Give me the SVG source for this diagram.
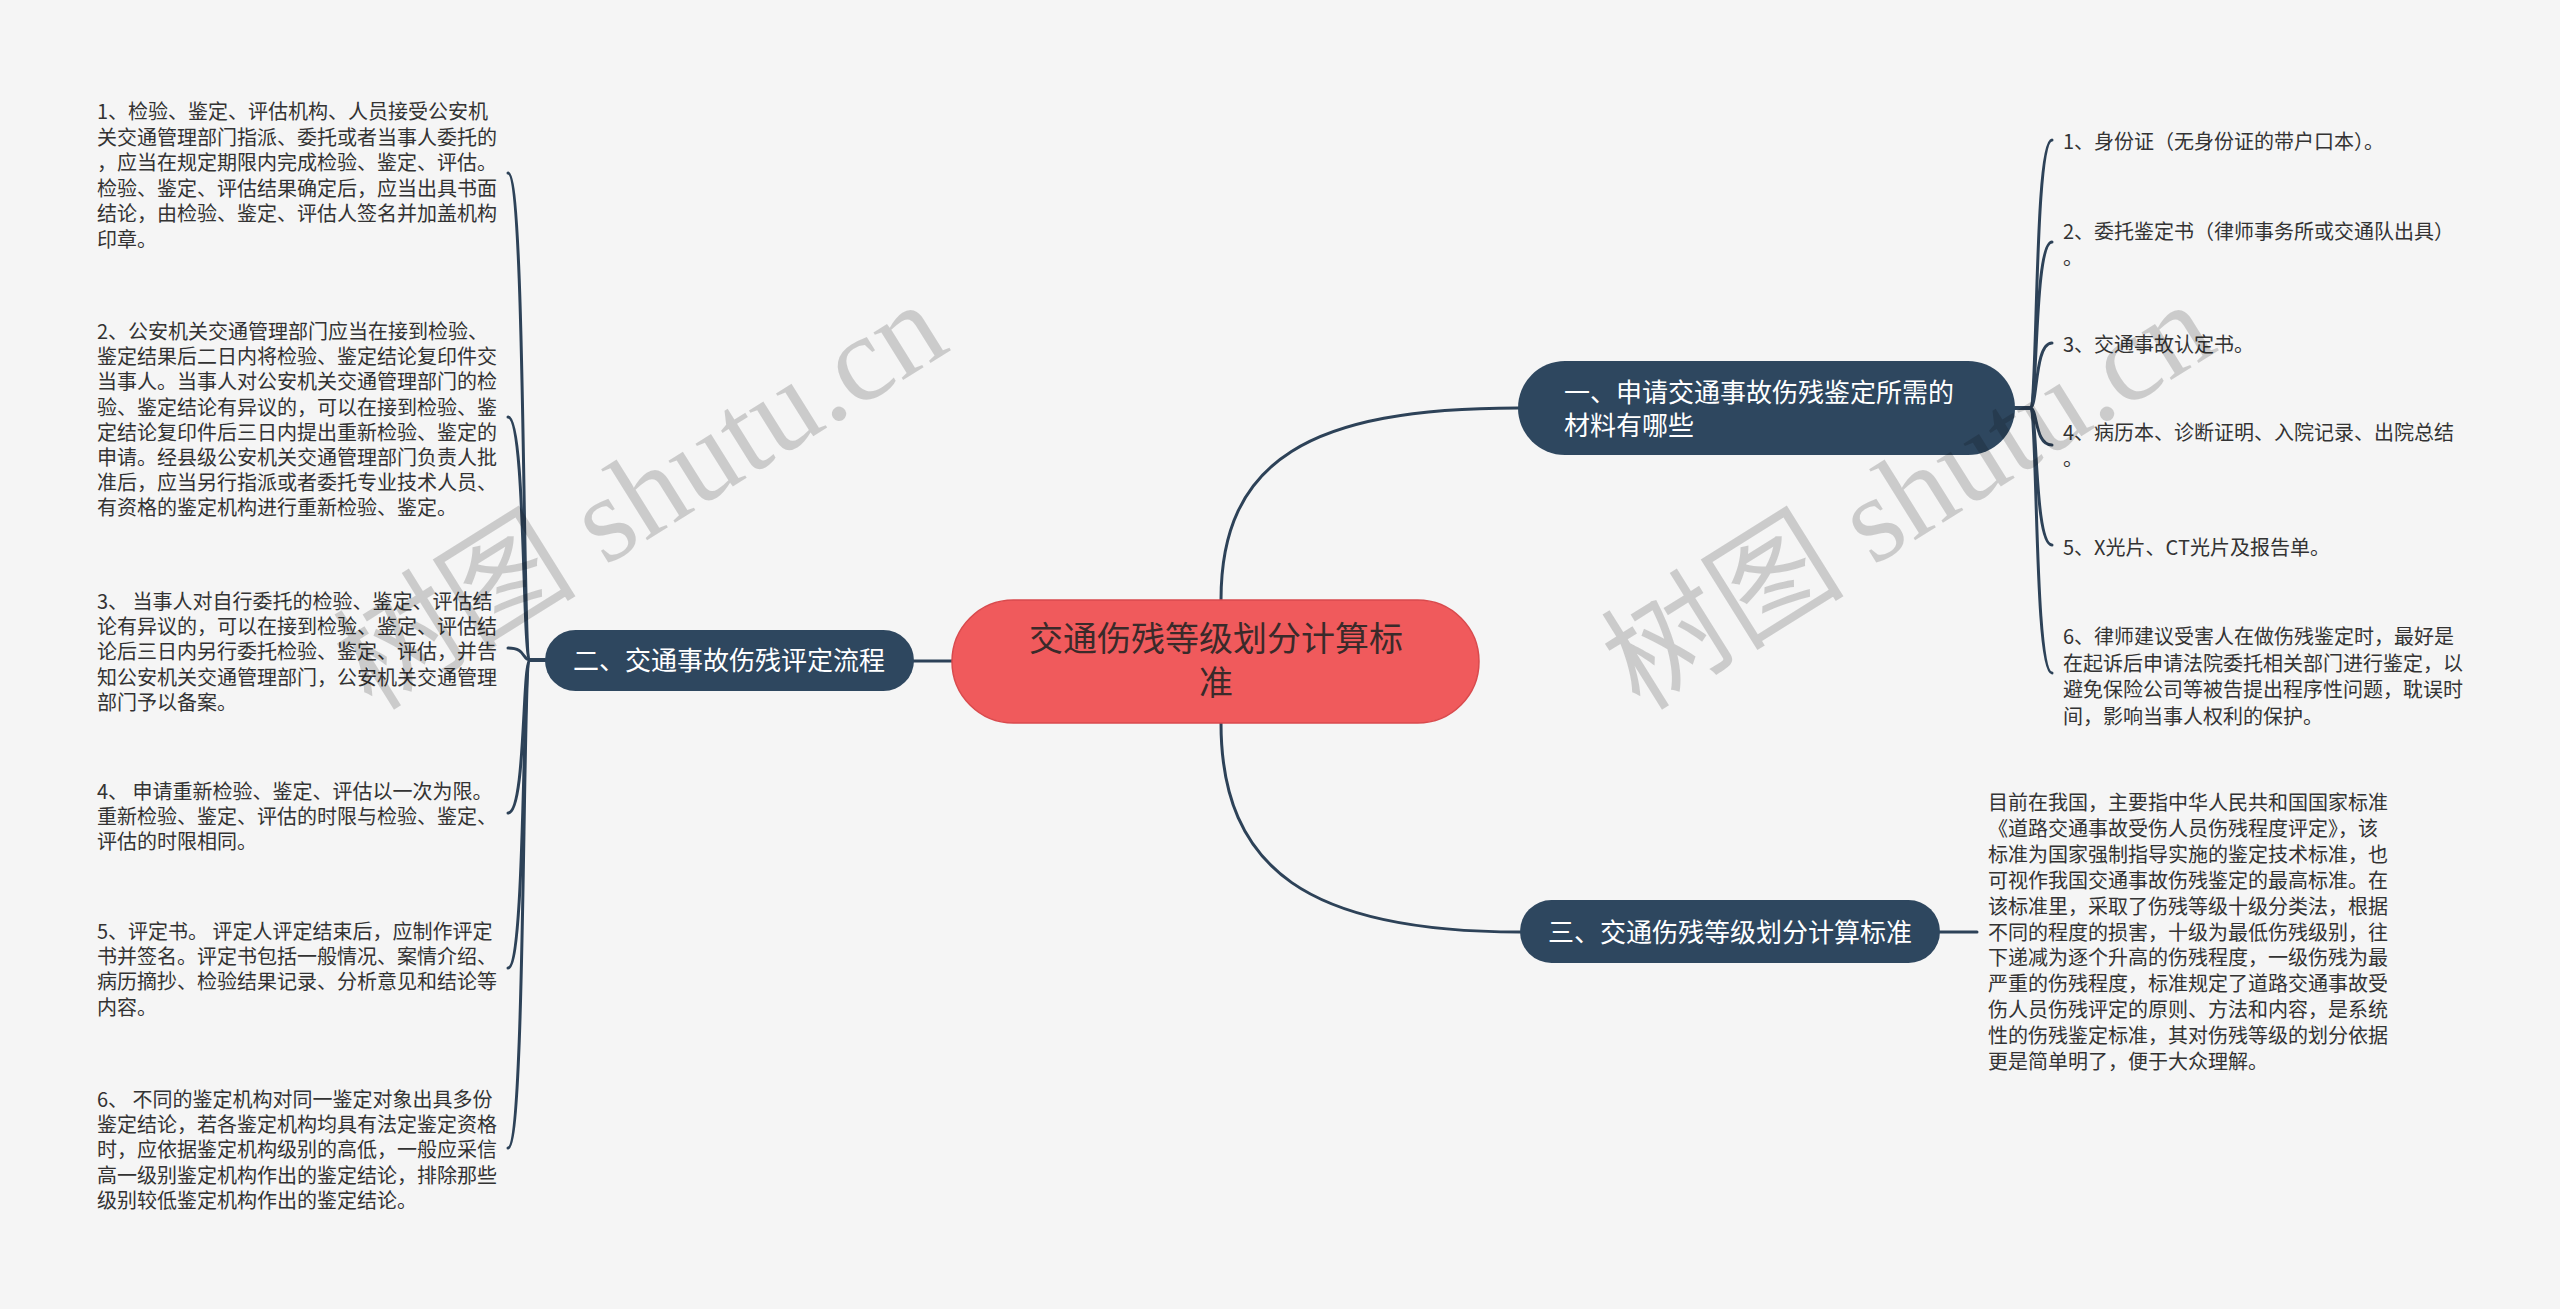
<svg xmlns="http://www.w3.org/2000/svg" width="2560" height="1309" viewBox="0 0 2560 1309">
<style>
.bg{fill:#F5F5F5}
.conn{fill:none;stroke:#2D4258;stroke-width:3;stroke-linecap:round}
.root{fill:#F05A5C;stroke:#D94A4D;stroke-width:1.5}
.main{fill:#2E475F}
.rt{font-family:"Noto Sans CJK SC","Liberation Sans",sans-serif;font-size:34px;fill:#3A2A2A}
.mt{font-family:"Noto Sans CJK SC","Liberation Sans",sans-serif;font-size:26px;fill:#FFFFFF}
.lt{font-family:"Noto Sans CJK SC","Liberation Sans",sans-serif;font-size:20px;fill:#333333}
.wm{font-family:"Liberation Serif","Noto Sans CJK SC",serif;font-size:122px;fill:#000000;fill-opacity:0.17}
</style>
<rect class="bg" x="0" y="0" width="2560" height="1309"/>
<g id="connectors">
<path class="conn" d="M1221,600 C1221,460 1310,408 1518,408"/>
<path class="conn" d="M1221,723 C1221,870 1310,932 1520,932"/>
<path class="conn" d="M952,661 L914,661"/>
<path class="conn" d="M545,660 L530,660 C522,660 526,173 508,173"/>
<path class="conn" d="M545,660 L530,660 C522,660 526,417 508,417"/>
<path class="conn" d="M545,660 L530,660 C522,660 526,648 508,648"/>
<path class="conn" d="M545,660 L530,660 C522,660 526,813 508,813"/>
<path class="conn" d="M545,660 L530,660 C522,660 526,968 508,968"/>
<path class="conn" d="M545,660 L530,660 C522,660 526,1148 508,1148"/>
<path class="conn" d="M2015,408 L2030,408 C2038,408 2034,140 2052,140"/>
<path class="conn" d="M2015,408 L2030,408 C2038,408 2034,242 2052,242"/>
<path class="conn" d="M2015,408 L2030,408 C2038,408 2034,343 2052,343"/>
<path class="conn" d="M2015,408 L2030,408 C2038,408 2034,445 2052,445"/>
<path class="conn" d="M2015,408 L2030,408 C2038,408 2034,545 2052,545"/>
<path class="conn" d="M2015,408 L2030,408 C2038,408 2034,673 2052,673"/>
<path class="conn" d="M1940,932 L1977,932"/>
</g>
<g id="root">
<rect class="root" x="952" y="600" width="527" height="123" rx="61.5"/>
<text class="rt" text-anchor="middle"><tspan x="1216" y="651">交通伤残等级划分计算标</tspan><tspan x="1216" y="695">准</tspan></text>
</g>
<g id="node1">
<rect class="main" x="1518" y="361" width="497" height="94" rx="47"/>
<text class="mt"><tspan x="1564" y="402">一、申请交通事故伤残鉴定所需的</tspan><tspan x="1564" y="435">材料有哪些</tspan></text>
</g>
<g id="node2">
<rect class="main" x="545" y="630" width="369" height="61" rx="30.5"/>
<text class="mt" x="573" y="670">二、交通事故伤残评定流程</text>
</g>
<g id="node3">
<rect class="main" x="1520" y="900" width="420" height="63" rx="31.5"/>
<text class="mt" x="1548" y="942">三、交通伤残等级划分计算标准</text>
</g>
<g id="leaf-l1">
<text class="lt"><tspan x="97" y="119">1、检验、鉴定、评估机构、人员接受公安机</tspan><tspan x="97" y="144.5">关交通管理部门指派、委托或者当事人委托的</tspan><tspan x="97" y="170">，应当在规定期限内完成检验、鉴定、评估。</tspan><tspan x="97" y="195.5">检验、鉴定、评估结果确定后，应当出具书面</tspan><tspan x="97" y="221">结论，由检验、鉴定、评估人签名并加盖机构</tspan><tspan x="97" y="246.5">印章。</tspan></text>
</g>
<g id="leaf-l2">
<text class="lt"><tspan x="97" y="339">2、公安机关交通管理部门应当在接到检验、</tspan><tspan x="97" y="364.2">鉴定结果后二日内将检验、鉴定结论复印件交</tspan><tspan x="97" y="389.4">当事人。当事人对公安机关交通管理部门的检</tspan><tspan x="97" y="414.6">验、鉴定结论有异议的，可以在接到检验、鉴</tspan><tspan x="97" y="439.8">定结论复印件后三日内提出重新检验、鉴定的</tspan><tspan x="97" y="465">申请。经县级公安机关交通管理部门负责人批</tspan><tspan x="97" y="490.2">准后，应当另行指派或者委托专业技术人员、</tspan><tspan x="97" y="515.4">有资格的鉴定机构进行重新检验、鉴定。</tspan></text>
</g>
<g id="leaf-l3">
<text class="lt"><tspan x="97" y="609">3、 当事人对自行委托的检验、鉴定、评估结</tspan><tspan x="97" y="634.2">论有异议的，可以在接到检验、鉴定、评估结</tspan><tspan x="97" y="659.4">论后三日内另行委托检验、鉴定、评估，并告</tspan><tspan x="97" y="684.6">知公安机关交通管理部门，公安机关交通管理</tspan><tspan x="97" y="709.8">部门予以备案。</tspan></text>
</g>
<g id="leaf-l4">
<text class="lt"><tspan x="97" y="799">4、 申请重新检验、鉴定、评估以一次为限。</tspan><tspan x="97" y="824.2">重新检验、鉴定、评估的时限与检验、鉴定、</tspan><tspan x="97" y="849.4">评估的时限相同。</tspan></text>
</g>
<g id="leaf-l5">
<text class="lt"><tspan x="97" y="939">5、评定书。 评定人评定结束后，应制作评定</tspan><tspan x="97" y="964.2">书并签名。评定书包括一般情况、案情介绍、</tspan><tspan x="97" y="989.4">病历摘抄、检验结果记录、分析意见和结论等</tspan><tspan x="97" y="1014.6">内容。</tspan></text>
</g>
<g id="leaf-l6">
<text class="lt"><tspan x="97" y="1107">6、 不同的鉴定机构对同一鉴定对象出具多份</tspan><tspan x="97" y="1132.2">鉴定结论，若各鉴定机构均具有法定鉴定资格</tspan><tspan x="97" y="1157.4">时，应依据鉴定机构级别的高低，一般应采信</tspan><tspan x="97" y="1182.6">高一级别鉴定机构作出的鉴定结论，排除那些</tspan><tspan x="97" y="1207.8">级别较低鉴定机构作出的鉴定结论。</tspan></text>
</g>
<g id="leaf-r1">
<text class="lt" x="2063" y="149">1、身份证（无身份证的带户口本）。</text>
</g>
<g id="leaf-r2">
<text class="lt"><tspan x="2063" y="239">2、委托鉴定书（律师事务所或交通队出具）</tspan><tspan x="2063" y="265">。</tspan></text>
</g>
<g id="leaf-r3">
<text class="lt" x="2063" y="352">3、交通事故认定书。</text>
</g>
<g id="leaf-r4">
<text class="lt"><tspan x="2063" y="440">4、病历本、诊断证明、入院记录、出院总结</tspan><tspan x="2063" y="466">。</tspan></text>
</g>
<g id="leaf-r5">
<text class="lt" x="2063" y="555">5、X光片、CT光片及报告单。</text>
</g>
<g id="leaf-r6">
<text class="lt"><tspan x="2063" y="644">6、律师建议受害人在做伤残鉴定时，最好是</tspan><tspan x="2063" y="670.5">在起诉后申请法院委托相关部门进行鉴定，以</tspan><tspan x="2063" y="697">避免保险公司等被告提出程序性问题，耽误时</tspan><tspan x="2063" y="723.5">间，影响当事人权利的保护。</tspan></text>
</g>
<g id="leaf-n3">
<text class="lt"><tspan x="1988" y="810">目前在我国，主要指中华人民共和国国家标准</tspan><tspan x="1988" y="835.9">《道路交通事故受伤人员伤残程度评定》，该</tspan><tspan x="1988" y="861.8">标准为国家强制指导实施的鉴定技术标准，也</tspan><tspan x="1988" y="887.7">可视作我国交通事故伤残鉴定的最高标准。在</tspan><tspan x="1988" y="913.6">该标准里，采取了伤残等级十级分类法，根据</tspan><tspan x="1988" y="939.5">不同的程度的损害，十级为最低伤残级别，往</tspan><tspan x="1988" y="965.4">下递减为逐个升高的伤残程度，一级伤残为最</tspan><tspan x="1988" y="991.3">严重的伤残程度，标准规定了道路交通事故受</tspan><tspan x="1988" y="1017.2">伤人员伤残评定的原则、方法和内容，是系统</tspan><tspan x="1988" y="1043.1">性的伤残鉴定标准，其对伤残等级的划分依据</tspan><tspan x="1988" y="1069">更是简单明了，便于大众理解。</tspan></text>
</g>
<g id="watermarks">
<text class="wm" transform="translate(372,712) rotate(-32)">树图 shutu.cn</text>
<text class="wm" transform="translate(1640,712) rotate(-32)">树图 shutu.cn</text>
</g>
</svg>
